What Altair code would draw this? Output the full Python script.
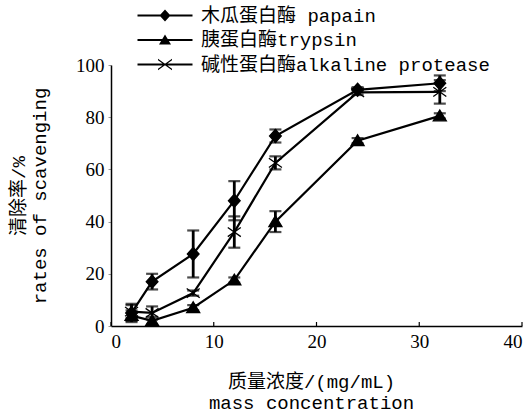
import altair as alt
import pandas as pd

# Mass concentration (mg/mL)
conc = [2, 4, 8, 12, 16, 24, 32]

# Scavenging rates (%) and their standard deviations
papain_mean = [5.0, 17.0, 27.6, 48.0, 72.8, 90.5, 93.0]
papain_sd = [3.5, 3.0, 9.0, 7.5, 2.5, 1.0, 3.0]
trypsin_mean = [4.0, 2.0, 7.0, 17.6, 40.0, 71.0, 80.5]
trypsin_sd = [2.0, 1.5, 1.0, 1.0, 4.0, 1.0, 1.0]
alkaline_mean = [5.5, 5.0, 12.6, 36.0, 62.5, 89.5, 89.7]
alkaline_sd = [2.5, 2.5, 1.0, 6.0, 2.5, 1.0, 4.5]

series_names = ["木瓜蛋白酶 papain", "胰蛋白酶trypsin", "碱性蛋白酶alkaline protease"]

x_ticks = [0, 10, 20, 30, 40]
y_ticks = [0, 20, 40, 60, 80, 100]

rows = []
for name, means, sds in zip(series_names,
                            [papain_mean, trypsin_mean, alkaline_mean],
                            [papain_sd, trypsin_sd, alkaline_sd]):
    for c, m, s in zip(conc, means, sds):
        rows.append({"conc": c, "rate": m, "lo": m - s, "hi": m + s, "series": name})
df = pd.DataFrame(rows)

W, H = 411, 261
mono_cjk = "Liberation Mono, Noto Sans CJK SC"
serif = "Liberation Serif, DejaVu Serif, serif"

# Marker glyphs for the plotted points
point_shapes = [
    "M0,-1L0.9,0L0,1L-0.9,0Z",
    "M0,-0.9L1,0.75L-1,0.75Z",
    "M-1,-0.7L1,0.7M-1,0.7L1,-0.7",
]
# Legend glyphs: a short line with the marker on top (all filled outlines)
bar = "M-2.75,-0.11L2.75,-0.11L2.75,0.11L-2.75,0.11Z"
legend_shapes = [
    bar + "M0,-0.6L0.55,0L0,0.6L-0.55,0Z",
    bar + "M0,-0.55L0.6,0.45L-0.6,0.45Z",
    bar + "M-0.7,-0.58L0.7,0.42L0.7,0.58L-0.7,-0.42Z"
        + "M-0.7,0.42L0.7,-0.58L0.7,-0.42L-0.7,0.58Z",
]

x_enc = alt.X("conc:Q", scale=alt.Scale(domain=[0, 40], nice=False),
              axis=alt.Axis(values=x_ticks, title=["质量浓度/(mg/mL)", "mass concentration"],
                            tickSize=0, labelPadding=6, titlePadding=21,
                            titleX=200, titleAlign="center",
                            titleLineHeight=21, grid=False))
y_enc = alt.Y("rate:Q", scale=alt.Scale(domain=[0, 100], nice=False),
              axis=alt.Axis(values=y_ticks,
                            title=["清除率/%", "rates of scavenging"],
                            tickSize=3, tickColor="#999999", labelPadding=4,
                            titlePadding=26, titleLineHeight=21, grid=False))

base = alt.Chart(df)

lines = base.mark_line(color="black", strokeWidth=2.2).encode(
    x=x_enc, y=y_enc, detail="series:N"
)

errs = base.mark_rule(color="black", strokeWidth=2.8).encode(
    x="conc:Q", y="lo:Q", y2="hi:Q"
)
caps_lo = base.mark_tick(color="black", orient="horizontal", size=12, thickness=2.2).encode(
    x="conc:Q", y="lo:Q"
)
caps_hi = base.mark_tick(color="black", orient="horizontal", size=12, thickness=2.2).encode(
    x="conc:Q", y="hi:Q"
)

points = base.mark_point(filled=True, fill="black", stroke="black", strokeWidth=1.3,
                         size=170, opacity=1).encode(
    x="conc:Q", y="rate:Q",
    shape=alt.Shape("series:N", scale=alt.Scale(domain=series_names, range=point_shapes),
                    legend=None),
)

legend_layer = base.mark_point(filled=True, color="black", opacity=0, size=400).encode(
    x="conc:Q", y="rate:Q",
    shape=alt.Shape("series:N", title=None,
                    scale=alt.Scale(domain=series_names, range=legend_shapes),
                    legend=alt.Legend(orient="none", legendX=43.5, legendY=-60,
                                      padding=0, rowPadding=3.5,
                                      symbolSize=400, symbolFillColor="black",
                                      symbolStrokeColor="black", symbolStrokeWidth=0.6,
                                      symbolOpacity=1, labelOffset=25.5,
                                      labelFont=mono_cjk, labelFontSize=19,
                                      labelColor="black", labelLimit=400)),
)

tick_df = pd.DataFrame({"t": x_ticks})
inner_ticks = alt.Chart(tick_df).mark_rule(color="black", strokeWidth=1.2).encode(
    x="t:Q", y=alt.value(H), y2=alt.value(H - 4)
)

chart = alt.layer(lines, errs, caps_lo, caps_hi, points, legend_layer, inner_ticks).resolve_scale(
    shape="independent"
).properties(
    width=W, height=H,
    autosize=alt.AutoSizeParams(type="none"),
    padding={"left": 111, "top": 65, "right": 9, "bottom": 92},
    background="white",
).configure_view(stroke=None).configure_axis(
    domainColor="black", domainWidth=1.5,
    labelFont=serif, labelFontSize=19, labelColor="black",
    titleFont=mono_cjk, titleFontSize=19, titleFontWeight="normal", titleColor="black",
)

chart.save("out.html", embed_options={"renderer": "svg", "actions": False})
